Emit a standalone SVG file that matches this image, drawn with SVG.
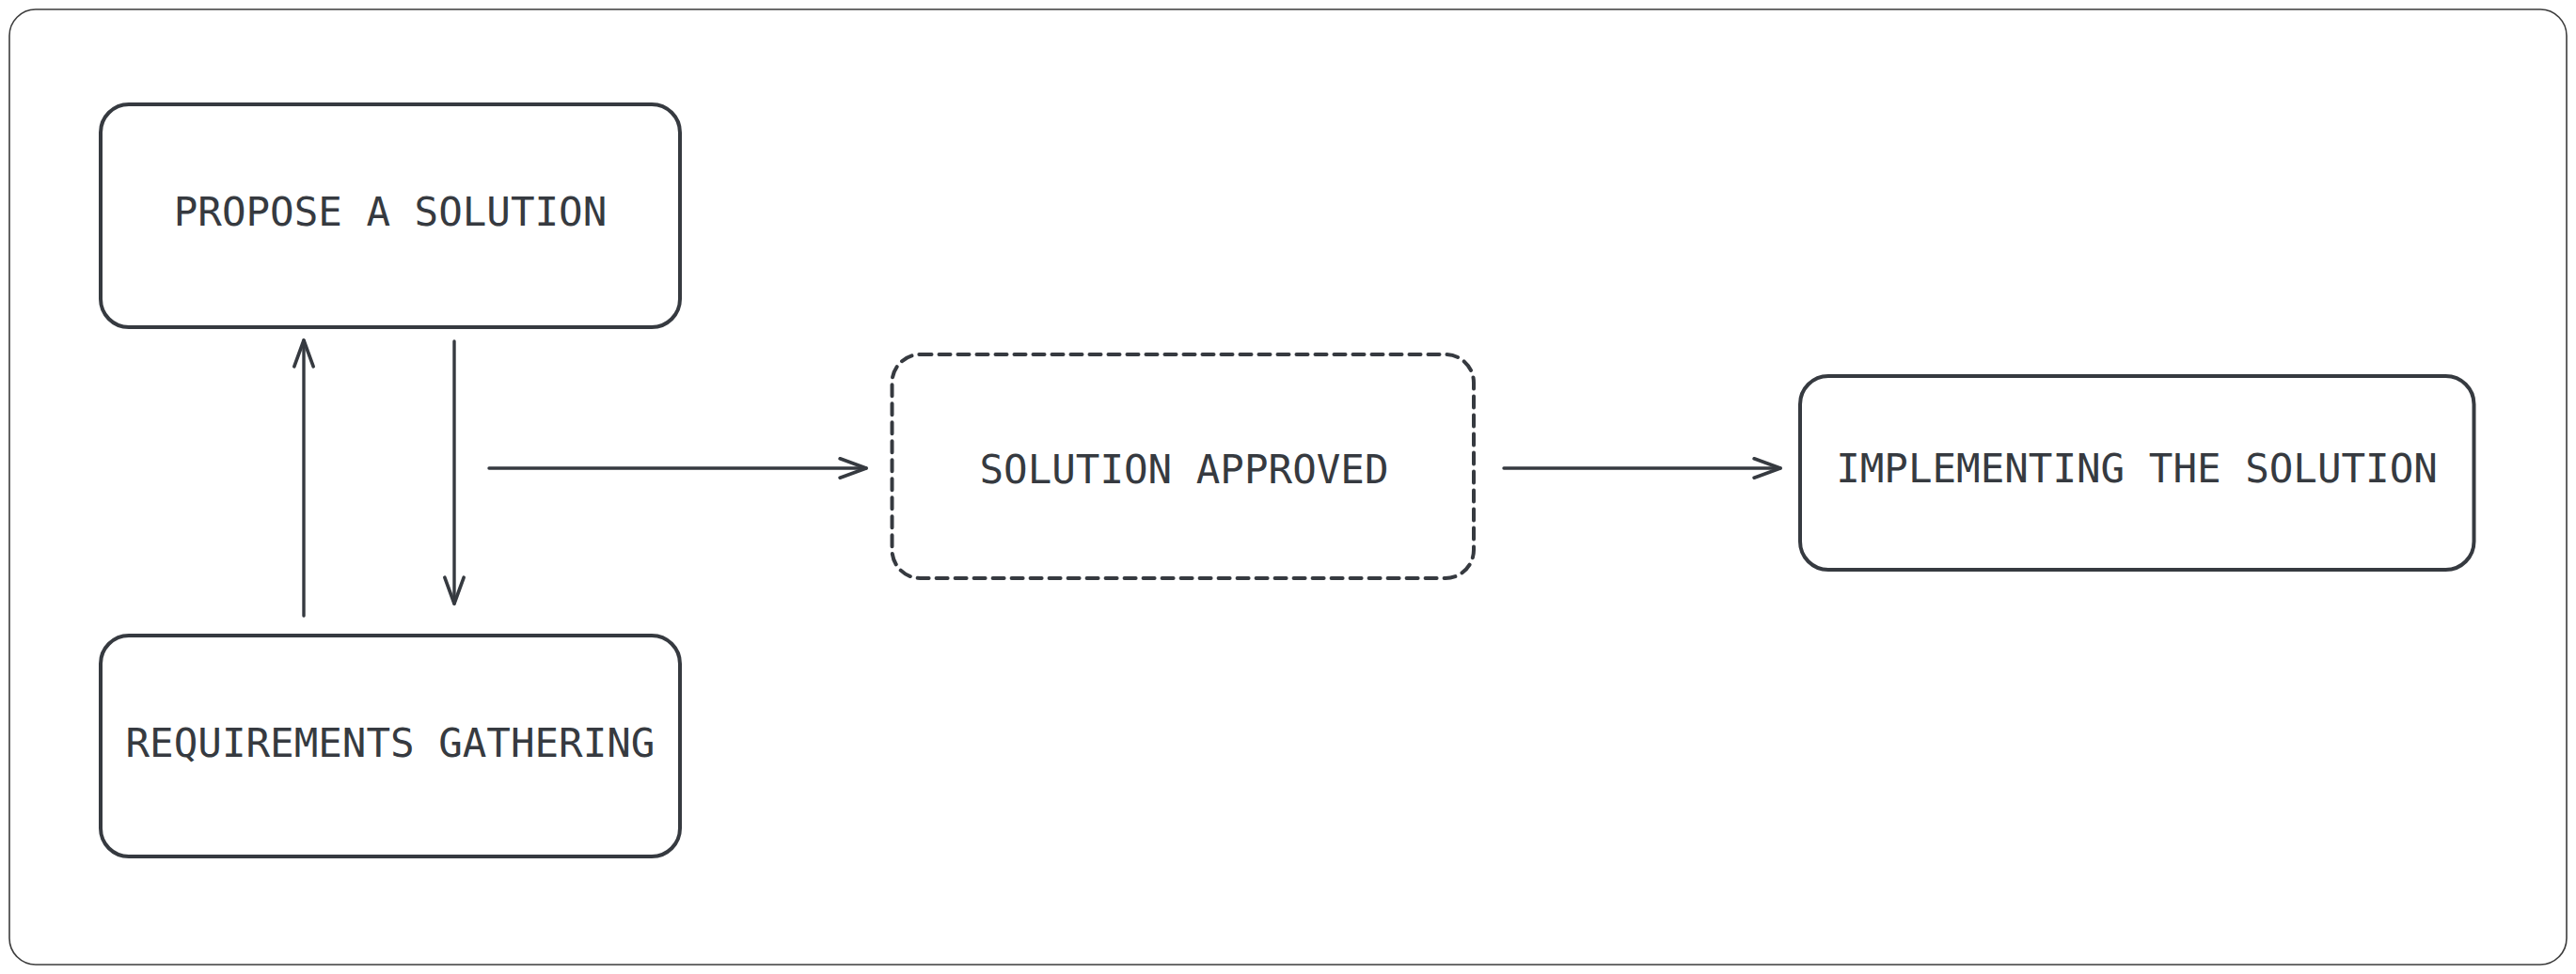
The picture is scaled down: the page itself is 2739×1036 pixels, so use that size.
<svg xmlns="http://www.w3.org/2000/svg" width="2739" height="1036" viewBox="0 0 2739 1036">
  <style>
    .frame { fill: #ffffff; stroke: #3d3d3d; stroke-width: 1.6; }
    .node { fill: #ffffff; stroke: #363a40; stroke-width: 4; }
    .dashed { stroke-dasharray: 12 8; stroke-linecap: round; }
    .label { font-family: "DejaVu Sans Mono", "Liberation Mono", monospace; font-size: 42.5px; fill: #363a40; text-anchor: middle; }
    .edge { fill: none; stroke: #363a40; stroke-width: 3.4; stroke-linecap: round; }
  </style>
  <defs>
    <marker id="arrow" markerUnits="userSpaceOnUse" markerWidth="40" markerHeight="30" refX="0" refY="0" viewBox="-30 -14 34 28" orient="auto" overflow="visible">
      <path d="M -26 -9.5 L 0 0 L -26 9.5" fill="none" stroke="#363a40" stroke-width="3.4" stroke-linecap="round" stroke-linejoin="round"/>
    </marker>
  </defs>
  <rect width="2739" height="1036" fill="#ffffff"/>
  <rect class="frame" x="10" y="10" width="2719" height="1016" rx="28" ry="28"/>

  <g id="node-propose">
    <rect class="node" x="107" y="111" width="616" height="237" rx="30" ry="30"/>
    <text class="label" x="415" y="240">PROPOSE A SOLUTION</text>
  </g>
  <g id="node-requirements">
    <rect class="node" x="107" y="676" width="616" height="235" rx="30" ry="30"/>
    <text class="label" x="415" y="805">REQUIREMENTS GATHERING</text>
  </g>
  <g id="node-approved">
    <rect class="node dashed" x="948.5" y="377" width="618.5" height="238" rx="30" ry="30"/>
    <text class="label" x="1259" y="514">SOLUTION APPROVED</text>
  </g>
  <g id="node-implementing">
    <rect class="node" x="1914" y="400" width="716.5" height="206" rx="30" ry="30"/>
    <text class="label" x="2272" y="513">IMPLEMENTING THE SOLUTION</text>
  </g>

  <g id="connectors">
    <path class="edge" d="M 323 655 L 323 362" marker-end="url(#arrow)"/>
    <path class="edge" d="M 483 363 L 483 642" marker-end="url(#arrow)"/>
    <path class="edge" d="M 520 498 L 921 498" marker-end="url(#arrow)"/>
    <path class="edge" d="M 1599 498 L 1893 498" marker-end="url(#arrow)"/>
  </g>
</svg>
